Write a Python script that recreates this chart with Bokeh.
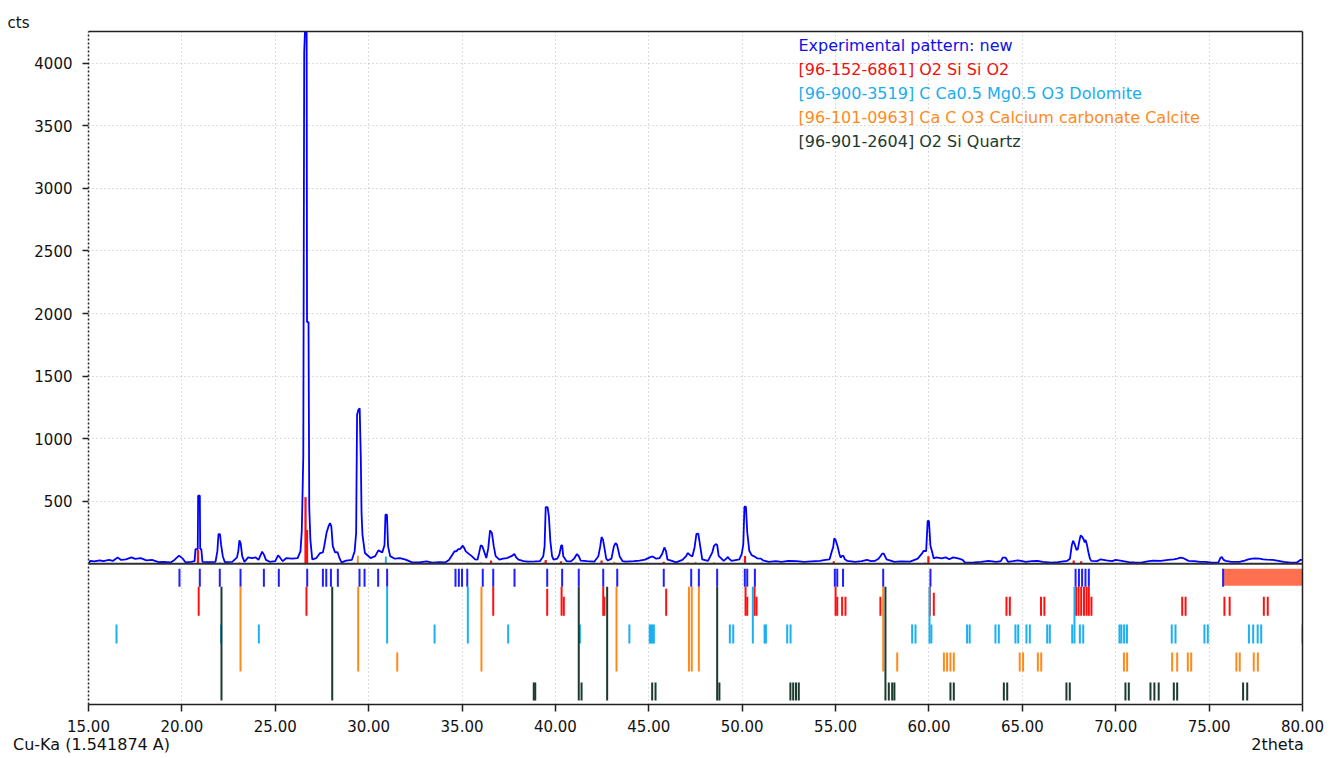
from bokeh.plotting import figure
from bokeh.models import (Range1d, FixedTicker, PrintfTickFormatter, LinearAxis,
                          Span, Title)
from bokeh.core.properties import value
from bokeh.embed import file_html
from bokeh.resources import INLINE

# ---------------- data ----------------
x_ticks = [15, 20, 25, 30, 35, 40, 45, 50, 55, 60, 65, 70, 75, 80]
y_ticks = [500, 1000, 1500, 2000, 2500, 3000, 3500, 4000]

exp_tt = [15.00, 15.10, 15.30, 15.60, 15.80, 16.10, 16.30, 16.56, 16.75, 17.00, 17.30, 17.50, 17.80,
          18.10, 18.40, 18.75, 19.00, 19.40, 19.60, 19.85, 20.05, 20.20, 20.50, 20.68, 20.73, 20.85,
          20.87, 20.96, 20.98, 21.04, 21.10, 21.40, 21.80, 21.90, 21.96, 22.04, 22.10, 22.19, 22.30,
          22.70, 22.95, 23.02, 23.08, 23.15, 23.23, 23.35, 23.55, 23.75, 23.95, 24.10, 24.22, 24.30,
          24.40, 24.50, 24.70, 25.00, 25.15, 25.25, 25.40, 25.60, 25.90, 26.20, 26.35, 26.42, 26.50,
          26.55, 26.60, 26.68, 26.70, 26.78, 26.82, 26.88, 26.98, 27.20, 27.40, 27.55, 27.62, 27.75,
          27.85, 27.93, 28.00, 28.08, 28.20, 28.33, 28.45, 28.55, 28.80, 29.10, 29.25, 29.33, 29.38,
          29.45, 29.52, 29.58, 29.62, 29.67, 29.80, 30.10, 30.35, 30.52, 30.73, 30.85, 30.90, 30.98,
          31.04, 31.15, 31.40, 31.67, 31.98, 32.30, 32.70, 33.10, 33.40, 33.80, 34.10, 34.30, 34.48,
          34.60, 34.69, 34.80, 34.90, 35.04, 35.12, 35.20, 35.35, 35.52, 35.70, 35.83, 35.92, 36.00,
          36.08, 36.15, 36.30, 36.40, 36.50, 36.60, 36.70, 36.80, 37.00, 37.20, 37.40, 37.65, 37.80,
          37.90, 38.02, 38.30, 38.54, 38.90, 39.17, 39.35, 39.42, 39.48, 39.58, 39.65, 39.73, 39.82,
          39.90, 40.10, 40.21, 40.31, 40.36, 40.42, 40.60, 40.83, 41.00, 41.15, 41.25, 41.35, 41.70,
          42.08, 42.30, 42.40, 42.47, 42.55, 42.63, 42.72, 42.81, 43.00, 43.13, 43.22, 43.30, 43.44,
          43.60, 43.75, 44.20, 44.50, 44.80, 45.05, 45.20, 45.40, 45.58, 45.72, 45.83, 45.92, 46.00,
          46.20, 46.46, 46.80, 47.00, 47.08, 47.20, 47.33, 47.45, 47.55, 47.65, 47.75, 47.86, 48.17,
          48.40, 48.49, 48.59, 48.66, 48.74, 49.01, 49.15, 49.22, 49.30, 49.43, 49.85, 49.98, 50.06,
          50.12, 50.20, 50.27, 50.38, 50.50, 50.59, 50.68, 50.80, 51.00, 51.11, 51.43, 51.80, 52.10,
          52.48, 52.90, 53.32, 53.70, 54.16, 54.45, 54.68, 54.80, 54.87, 54.93, 55.00, 55.10, 55.20,
          55.27, 55.35, 55.42, 55.50, 55.63, 56.05, 56.40, 56.68, 56.90, 57.10, 57.30, 57.41, 57.50,
          57.58, 57.73, 58.15, 58.50, 58.99, 59.40, 59.62, 59.72, 59.85, 59.93, 60.00, 60.08, 60.16,
          60.25, 60.40, 60.67, 60.90, 61.09, 61.30, 61.61, 61.80, 61.93, 62.40, 62.80, 63.19, 63.60,
          63.85, 63.95, 64.10, 64.24, 64.50, 64.76, 65.00, 65.18, 65.50, 65.81, 66.10, 66.55, 66.90,
          67.39, 67.55, 67.65, 67.72, 67.80, 67.90, 67.97, 68.05, 68.12, 68.20, 68.27, 68.34, 68.39,
          68.46, 68.54, 68.62, 68.69, 69.00, 69.20, 69.49, 69.80, 70.00, 70.32, 70.70, 71.00, 71.37,
          71.70, 72.00, 72.42, 72.80, 73.10, 73.30, 73.47, 73.60, 73.90, 74.20, 74.52, 74.80, 75.15,
          75.50, 75.60, 75.68, 75.78, 75.89, 76.20, 76.62, 76.90, 77.10, 77.30, 77.46, 77.70, 77.90,
          78.09, 78.40, 78.72, 79.00, 79.35, 79.70, 79.88, 80.00]
exp_cts = [5, 22, 18, 27, 20, 30, 22, 50, 30, 35, 50, 38, 45,
           27, 30, 13, 15, 10, 30, 64, 40, 10, 15, 20, 117, 117,
           543, 543, 117, 117, 15, 13, 15, 100, 237, 237, 150, 60, 12,
           15, 50, 100, 186, 160, 60, 15, 50, 45, 50, 30, 70, 96,
           70, 30, 15, 20, 66, 50, 20, 45, 40, 45, 100, 263, 857,
           4088, 4300, 4300, 1932, 1932, 450, 190, 35, 45, 85, 90, 138, 250,
           298, 325, 300, 140, 90, 93, 40, 10, 25, 30, 100, 245, 1190,
           1230, 1243, 843, 400, 231, 85, 45, 60, 106, 90, 150, 391, 391,
           138, 60, 40, 45, 32, 12, 10, 18, 8, 12, 10, 30, 72,
           100, 98, 117, 117, 144, 125, 98, 80, 60, 35, 32, 90, 146,
           140, 112, 45, 120, 266, 245, 138, 60, 32, 40, 45, 60, 77,
           50, 32, 20, 16, 18, 20, 60, 138, 452, 452, 378, 178, 60,
           32, 40, 72, 146, 146, 60, 20, 18, 40, 77, 60, 25, 20,
           16, 60, 138, 213, 190, 120, 40, 25, 40, 138, 165, 150, 58,
           20, 16, 20, 25, 32, 50, 58, 40, 45, 80, 130, 100, 32,
           25, 10, 30, 60, 85, 70, 58, 130, 238, 240, 143, 35, 22,
           90, 143, 157, 150, 62, 22, 40, 54, 40, 22, 35, 80, 157,
           455, 455, 252, 103, 70, 62, 55, 43, 40, 27, 14, 20, 15,
           22, 20, 14, 18, 22, 30, 35, 100, 130, 203, 190, 143, 80,
           49, 62, 62, 35, 22, 14, 20, 30, 20, 22, 40, 62, 81,
           81, 35, 14, 18, 16, 40, 80, 103, 100, 341, 341, 143, 100,
           43, 50, 43, 50, 35, 50, 40, 30, 8, 10, 14, 22, 15,
           20, 49, 49, 14, 20, 27, 20, 14, 20, 22, 15, 8, 12,
           22, 40, 150, 184, 157, 110, 116, 180, 225, 215, 198, 170, 190,
           150, 89, 40, 22, 20, 35, 27, 20, 30, 22, 12, 10, 8,
           18, 25, 22, 30, 35, 40, 49, 45, 22, 20, 14, 15, 8,
           10, 45, 54, 30, 22, 15, 14, 25, 35, 40, 43, 40, 35,
           32, 30, 22, 15, 8, 10, 30, 30]

# peak positions found in the experimental pattern
peak_tt = [19.87, 20.96, 22.03, 23.14, 24.39, 25.19, 26.71, 27.55, 27.73, 27.98, 28.35, 29.51,
           29.78, 30.51, 30.99, 34.65, 34.83, 35.00, 35.28, 36.11, 36.67, 37.81, 39.56, 40.36,
           41.25, 42.56, 43.31, 45.80, 47.27, 47.68, 48.66, 50.14, 50.27, 50.68, 54.96, 55.09,
           55.40, 57.55, 60.08, 67.85, 68.03, 68.20, 68.38, 68.56, 75.75]
excluded_region = [75.75, 80.0]

# reference phases: positions and relative intensity (0..100)
red_tt = [20.90, 26.67, 36.67, 39.56, 40.33, 40.45, 42.56, 42.62, 45.93, 50.18, 50.27, 50.66,
          50.77, 55.00, 55.09, 55.35, 55.53, 57.40, 60.05, 60.26, 64.15, 64.33, 66.00, 66.18,
          67.88, 68.01, 68.15, 68.30, 68.44, 68.56, 68.70, 73.56, 73.74, 75.82, 76.10, 77.93, 78.14]
red_I = [100, 100, 100, 80, 100, 0, 100, 0, 80, 100, 0, 100,
         0, 100, 0, 0, 0, 0, 100, 40, 0, 0, 0, 0,
         100, 100, 100, 100, 100, 100, 0, 0, 0, 0, 0, 0, 0]
dol_tt = [16.50, 22.10, 24.12, 30.99, 33.53, 35.31, 37.47, 41.31, 43.96, 45.05, 45.12, 45.20,
          45.27, 49.34, 49.52, 50.57, 51.20, 51.27, 52.41, 52.59, 59.10, 59.28, 60.03, 60.13,
          62.04, 62.18, 63.56, 63.74, 64.63, 64.78, 65.22, 65.40, 66.33, 66.47, 67.67, 67.79,
          68.08, 68.26, 70.20, 70.30, 70.45, 70.60, 73.00, 73.20, 74.75, 74.93, 77.13, 77.36,
          77.60, 77.79, 80.00]
dol_I = [0, 0, 0, 100, 0, 100, 0, 0, 0, 0, 0, 0,
         0, 0, 0, 100, 0, 0, 0, 0, 0, 0, 100, 0,
         0, 0, 0, 0, 0, 0, 0, 0, 0, 0, 0, 100,
         0, 0, 0, 0, 0, 0, 0, 0, 0, 0, 0, 0,
         0, 0, 0]
cal_tt = [23.14, 29.44, 31.53, 36.04, 43.27, 47.15, 47.30, 47.68, 57.55, 58.30, 60.80, 60.97,
          61.15, 61.33, 64.86, 65.04, 65.83, 66.01, 70.44, 70.61, 73.02, 73.29, 73.86, 74.04,
          76.46, 76.64, 77.39, 77.61]
cal_I = [100, 100, 0, 100, 100, 100, 100, 100, 100, 0, 0, 0,
         0, 0, 0, 0, 0, 0, 0, 0, 0, 0, 0, 0,
         0, 0, 0, 0]
qtz_tt = [22.12, 28.05, 38.84, 38.92, 41.25, 41.40, 42.77, 45.18, 45.36, 48.66, 48.78, 52.58,
          52.73, 52.88, 53.03, 57.67, 57.85, 58.03, 58.15, 61.15, 61.33, 64.01, 64.19, 67.36,
          67.54, 70.52, 70.70, 71.86, 72.07, 72.30, 73.11, 73.29, 76.82, 77.04]
qtz_I = [100, 100, 0, 0, 100, 0, 100, 0, 0, 100, 0, 0,
         0, 0, 0, 100, 0, 0, 0, 0, 0, 0, 0, 0,
         0, 0, 0, 0, 0, 0, 0, 0, 0, 0]

# calculated reference peaks shown in the upper pattern
red_calc_tt = [20.86, 26.62, 26.70, 36.55, 39.48, 40.30, 42.47, 45.80, 50.15, 54.90, 59.97, 67.75, 68.15]
red_calc_h = [112, 532, 270, 25, 30, 20, 25, 15, 62, 20, 60, 25, 20]
cal_calc_tt = [23.08, 29.42, 36.00, 39.40, 43.15, 47.10, 47.50, 48.50]
cal_calc_h = [12, 64, 12, 12, 15, 12, 15, 12]
dol_calc_tt = [22.05, 24.10, 30.92, 33.55, 35.30, 37.40, 41.10, 44.90, 51.05, 59.80]
dol_calc_h = [10, 8, 58, 8, 10, 8, 10, 8, 10, 10]

legend_labels = ["Experimental pattern: new",
                 "[96-152-6861] O2 Si Si O2",
                 "[96-900-3519] C Ca0.5 Mg0.5 O3  Dolomite",
                 "[96-101-0963] Ca C O3 Calcium carbonate Calcite",
                 "[96-901-2604] O2 Si  Quartz"]
y_title = "cts"
x_title_left = "Cu-Ka (1.541874 A)"
x_title_right = "2theta"

BLUE = "#0000FF"
RED = "#FF1010"
LBLUE = "#1AB0F2"
ORANGE = "#FF8A1C"
DARK = "#1C3A2E"
legend_colors = ["#1010E8", "#F01010", "#18ADEE", "#FF8A1C", "#203A30"]

# ---------------- layout helpers (picture px -> data) ----------------
W, H = 1330, 756
X0, X1 = 15.0, 80.0
Y0, Y1 = -1126.0, 4255.0
FL, FR, FT, FB = 88, 1302, 31, 705


def dx(pxv):
    return X0 + (pxv - FL) * (X1 - X0) / (FR - FL)


def dy(pyv):
    return Y1 - (pyv - FT) * (Y1 - Y0) / (FB - FT)


FONT = "DejaVu Sans"

p = figure(width=W, height=H, x_range=Range1d(X0, X1), y_range=Range1d(Y0, Y1),
           output_backend="svg", toolbar_location=None,
           min_border_left=FL, min_border_right=W - FR, min_border_top=FT,
           min_border_bottom=H - FB)
p.outline_line_color = None
p.background_fill_color = "white"
p.border_fill_color = "white"

# axes
p.xaxis.ticker = FixedTicker(ticks=x_ticks)
p.xaxis.formatter = PrintfTickFormatter(format="%.2f")
p.yaxis.ticker = FixedTicker(ticks=y_ticks)
for ax in (p.xaxis[0], p.yaxis[0]):
    ax.major_tick_in = 0
    ax.major_tick_out = 7
    ax.minor_tick_line_color = None
    ax.major_tick_line_color = "#202020"
    ax.major_tick_line_width = 1.5
    ax.axis_line_color = "#202020"
    ax.axis_line_width = 1.5
    ax.major_label_text_font = FONT
    ax.major_label_text_font_size = "15px"
    ax.major_label_text_color = "#111111"
p.yaxis.major_tick_out = 6
p.yaxis.major_label_standoff = 10
p.yaxis.axis_line_dash = "2 2"
p.xaxis.major_label_standoff = 8

# bottom captions carried by an extra axis without line or ticks
cap_left = dx(91)
cap_right = dx(1277)
cap_ax = LinearAxis(ticker=FixedTicker(ticks=[cap_left, cap_right]),
                    major_label_overrides={cap_left: x_title_left, cap_right: x_title_right},
                    axis_line_color=None, major_tick_line_color=None, minor_tick_line_color=None,
                    major_tick_out=0, major_tick_in=0, major_label_standoff=0,
                    major_label_text_font=FONT, major_label_text_font_size="16px",
                    major_label_text_color="#111111")
p.add_layout(cap_ax, "below")

top_ax = LinearAxis(ticker=FixedTicker(ticks=[]), major_label_text_font_size="0px",
                    major_tick_line_color=None, minor_tick_line_color=None,
                    major_tick_out=0, major_tick_in=0, major_label_standoff=0,
                    axis_line_color="#202020", axis_line_width=1.5)
right_ax = LinearAxis(ticker=FixedTicker(ticks=[]), major_label_text_font_size="0px",
                      major_tick_line_color=None, minor_tick_line_color=None,
                      major_tick_out=0, major_tick_in=0, major_label_standoff=0,
                      axis_line_color="#202020", axis_line_width=1.5)
p.add_layout(top_ax, "above")
p.add_layout(right_ax, "right")

p.add_layout(Title(text=y_title, align="left", offset=-(FL - 7), standoff=0,
                   text_font=FONT, text_font_size="15px", text_font_style="normal",
                   text_color="#111111"), "above")

# grids
p.xgrid.ticker = FixedTicker(ticks=x_ticks)
p.ygrid.ticker = FixedTicker(ticks=y_ticks)
p.grid.grid_line_color = "#b8b8b8"
p.grid.grid_line_dash = "1 3"
p.grid.grid_line_width = 1

# baseline
p.add_layout(Span(location=0, dimension="width", line_color="#303030", line_width=2))

# experimental pattern
p.line(exp_tt, exp_cts, line_color=BLUE, line_width=1.8)

# calculated reference peaks on the pattern
p.vbar(x=dol_calc_tt, top=dol_calc_h, bottom=0, width=0.1, fill_color=LBLUE, line_color=None)
p.vbar(x=cal_calc_tt, top=cal_calc_h, bottom=0, width=0.1, fill_color=ORANGE, line_color=None)
p.vbar(x=red_calc_tt, top=red_calc_h, bottom=0, width=0.12, fill_color=RED, line_color=None)

# stick rows
FULL_TOP = 587
p.quad(left=[excluded_region[0]], right=[excluded_region[1]], bottom=[dy(586)], top=[dy(569)],
       fill_color="#FF7050", line_color=None)
p.segment(x0=peak_tt, x1=peak_tt, y0=[dy(587)] * len(peak_tt), y1=[dy(569)] * len(peak_tt),
          line_color="#1E1EFF", line_width=2)


def stick_row(tt, inten, color, bottom_px, min_top_px):
    minh = bottom_px - min_top_px
    full = bottom_px - FULL_TOP
    y0 = [dy(bottom_px)] * len(tt)
    y1 = [dy(bottom_px - (minh + i / 100.0 * (full - minh))) for i in inten]
    p.segment(x0=tt, x1=tt, y0=y0, y1=y1, line_color=color, line_width=2)


stick_row(red_tt, red_I, RED, 616, 597)
stick_row(dol_tt, dol_I, LBLUE, 644, 625)
stick_row(cal_tt, cal_I, ORANGE, 672, 653)
stick_row(qtz_tt, qtz_I, DARK, 701, 683)

# legend
p.text(x=[dx(798)] * len(legend_labels), y=[dy(45 + 24 * i) for i in range(len(legend_labels))],
       text=legend_labels, text_color=legend_colors, text_font=value(FONT),
       text_font_size="16px", text_baseline="middle", text_align="left")

open("out.html", "w").write(file_html(p, INLINE))
